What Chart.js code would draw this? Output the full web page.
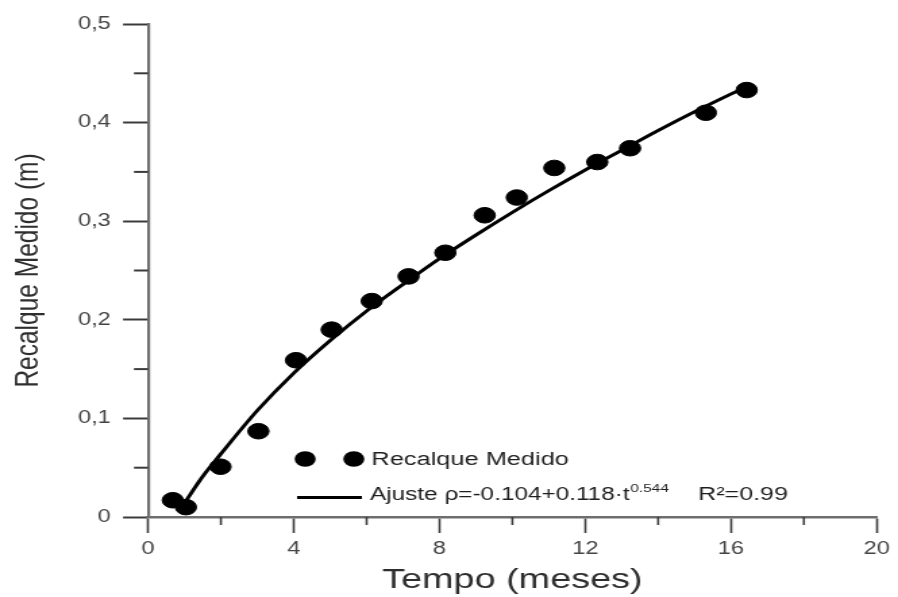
<!DOCTYPE html>
<html>
<head>
<meta charset="utf-8">
<script src="https://cdn.jsdelivr.net/npm/chart.js@4.4.1/dist/chart.umd.min.js"></script>
<style>
  html, body { margin: 0; padding: 0; background: #ffffff; }
</style>
</head>
<body>
<canvas id="c" width="665" height="597" style="display:block;width:898px;height:597px;"></canvas>
<script>
// ---- data ----
const measuredTime = [0.68, 1.04, 1.99, 3.03, 4.06, 5.04, 6.14, 7.15, 8.16, 9.24, 10.12, 11.15, 12.33, 13.23, 15.31, 16.43];
const measuredSettlement = [0.017, 0.010, 0.051, 0.087, 0.159, 0.190, 0.219, 0.244, 0.268, 0.306, 0.324, 0.354, 0.360, 0.374, 0.410, 0.433];

const fitTime = [1.0, 1.5, 2, 3, 4, 5, 6, 7, 8, 9, 10, 11, 12, 13, 14, 15, 16, 16.4];
const fitSettlement = [0.014, 0.041, 0.064, 0.108, 0.146, 0.179, 0.209, 0.236, 0.262, 0.286, 0.309, 0.331, 0.352, 0.372, 0.392, 0.411, 0.429, 0.436];

const xTickLabels = ['0', '4', '8', '12', '16', '20'];
const yTickLabels = ['0', '0,1', '0,2', '0,3', '0,4', '0,5'];
const xMinorTicks = [2, 6, 10, 14, 18];
const yMinorTicks = [0.05, 0.15, 0.25, 0.35, 0.45];

const xTitle = 'Tempo (meses)';
const yTitle = 'Recalque Medido (m)';
const legendMeasured = 'Recalque Medido';
const legendFitMain = 'Ajuste \u03C1=-0.104+0.118\u00B7t';
const legendFitExp = '0.544';
const legendFitR2 = 'R\u00B2=0.99';

const measuredPoints = measuredTime.map((t, i) => ({ x: t, y: measuredSettlement[i] }));
const fitPoints = fitTime.map((t, i) => ({ x: t, y: fitSettlement[i] }));

// minor ticks drawn through the chart's own scales
const minorTicks = {
  id: 'minorTicks',
  afterDraw(chart) {
    const ctx = chart.ctx;
    const xs = chart.scales.x, ys = chart.scales.y;
    ctx.save();
    ctx.strokeStyle = '#3a3a3a';
    ctx.lineWidth = 1.6;
    xMinorTicks.forEach(v => {
      const px = xs.getPixelForValue(v);
      ctx.beginPath();
      ctx.moveTo(px, ys.bottom);
      ctx.lineTo(px, ys.bottom + 8);
      ctx.stroke();
    });
    ctx.lineWidth = 2;
    yMinorTicks.forEach(v => {
      const py = ys.getPixelForValue(v);
      ctx.beginPath();
      ctx.moveTo(xs.left, py);
      ctx.lineTo(xs.left - 10.4, py);
      ctx.stroke();
    });
    ctx.restore();
  }
};

// legend drawn inside the plot (Grapher style)
const innerLegend = {
  id: 'innerLegend',
  afterDraw(chart) {
    const ctx = chart.ctx;
    const a = chart.chartArea;
    ctx.save();
    const y1 = a.top + 435;
    const y2 = a.top + 471;
    ctx.fillStyle = '#000';
    [a.left + 116.4, a.left + 152.4].forEach(cx => {
      ctx.beginPath();
      ctx.arc(cx, y1, 7.8, 0, Math.PI * 2);
      ctx.fill();
    });
    ctx.font = '18.8px "Liberation Sans", Arial, sans-serif';
    ctx.fillStyle = '#1e1e1e';
    ctx.textBaseline = 'middle';
    ctx.textAlign = 'left';
    ctx.fillText(legendMeasured, a.left + 165.5, y1 + 1);
    ctx.strokeStyle = '#000';
    ctx.lineWidth = 3;
    ctx.beginPath();
    ctx.moveTo(a.left + 110.4, y2 + 2.5);
    ctx.lineTo(a.left + 158.4, y2 + 2.5);
    ctx.stroke();
    let tx = a.left + 164.5;
    ctx.font = '18px "Liberation Sans", Arial, sans-serif';
    ctx.fillText(legendFitMain, tx, y2);
    tx += ctx.measureText(legendFitMain).width + 0.5;
    ctx.font = '11.5px "Liberation Sans", Arial, sans-serif';
    ctx.fillText(legendFitExp, tx, y2 - 6);
    ctx.font = '18.5px "Liberation Sans", Arial, sans-serif';
    ctx.fillText(legendFitR2, a.left + 407.5, y2);
    ctx.restore();
  }
};

const chart = new Chart(document.getElementById('c'), {
  data: {
    datasets: [
      {
        type: 'line',
        label: 'Ajuste',
        data: fitPoints,
        borderColor: '#000',
        borderWidth: 3,
        pointRadius: 0,
        fill: false,
        cubicInterpolationMode: 'monotone',
        order: 2
      },
      {
        type: 'scatter',
        label: 'Recalque Medido',
        data: measuredPoints,
        backgroundColor: '#000',
        borderColor: '#000',
        pointRadius: 7.8,
        pointHoverRadius: 7.8,
        order: 1
      }
    ]
  },
  options: {
    responsive: false,
    animation: false,
    devicePixelRatio: 1,
    layout: { padding: { left: 0, right: 12.4, top: 24, bottom: 0 } },
    plugins: {
      legend: { display: false },
      tooltip: { enabled: false }
    },
    scales: {
      x: {
        type: 'linear',
        min: 0, max: 20,
        afterFit(scale) { scale.height = 80; },
        ticks: {
          stepSize: 4,
          padding: 6,
          color: '#444',
          font: { family: '"Liberation Sans", Arial, sans-serif', size: 17.5 },
          callback: (v, i) => xTickLabels[i]
        },
        grid: {
          drawOnChartArea: false,
          drawTicks: true,
          tickLength: 16,
          tickWidth: 1.6,
          tickColor: '#3a3a3a'
        },
        border: { display: true, color: '#6e6e6e', width: 2.5 },
        title: {
          display: true,
          text: xTitle,
          color: '#2e2e2e',
          font: { family: '"Liberation Sans", Arial, sans-serif', size: 28 },
          padding: { top: 0, bottom: 0 }
        }
      },
      y: {
        type: 'linear',
        min: 0, max: 0.5,
        afterFit(scale) { scale.width = 109.6; },
        ticks: {
          stepSize: 0.1,
          padding: 9,
          color: '#444',
          font: { family: '"Liberation Sans", Arial, sans-serif', size: 17.5 },
          callback: (v, i) => yTickLabels[i]
        },
        grid: {
          drawOnChartArea: false,
          drawTicks: true,
          tickLength: 18.5,
          tickWidth: 2,
          tickColor: '#3a3a3a'
        },
        border: { display: true, color: '#6e6e6e', width: 2.2 },
        title: {
          display: true,
          text: yTitle,
          color: '#2e2e2e',
          font: { family: '"Liberation Sans", Arial, sans-serif', size: 24.5 },
          padding: { top: 7, bottom: 0 }
        }
      }
    }
  },
  plugins: [minorTicks, innerLegend]
});
const cv = document.getElementById('c');
cv.style.width = '898px';
cv.style.height = '597px';
</script>
</body>
</html>
